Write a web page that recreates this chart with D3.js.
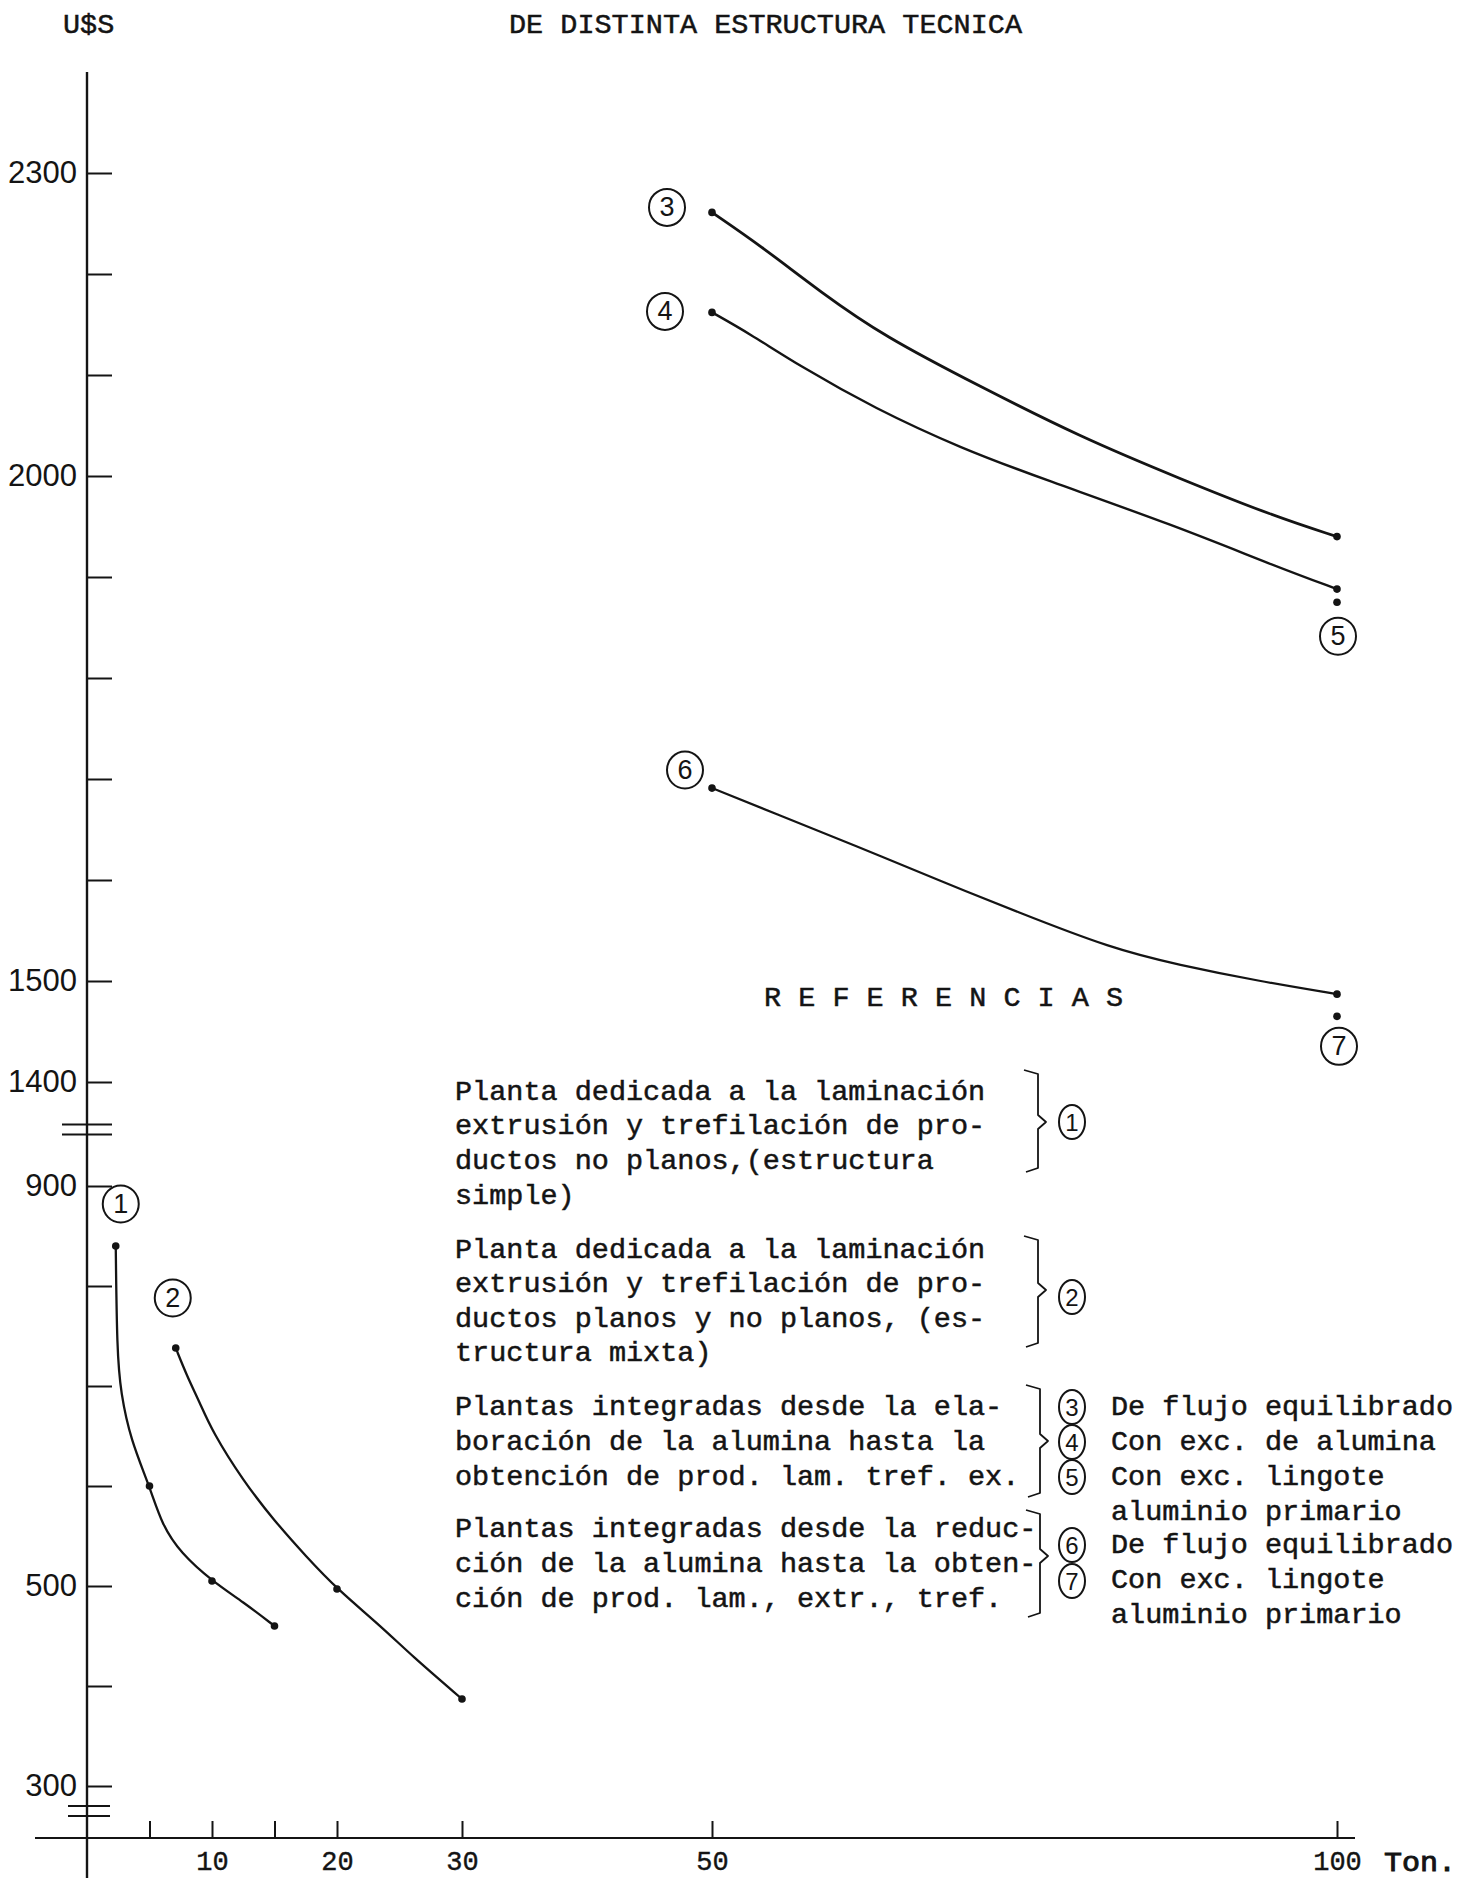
<!DOCTYPE html>
<html>
<head>
<meta charset="utf-8">
<script src="https://d3js.org/d3.v7.min.js"></script>
<style>
  body { margin: 0; background: #fff; }
  svg { display: block; }
</style>
</head>
<body>
<script>
// chart values
var title = "DE DISTINTA ESTRUCTURA TECNICA";
var unitLabel = "U$S";
var refTitle = "R E F E R E N C I A S";

var xTicks = [5, 10, 15, 20, 30, 50, 100];
var xTickLabels = [10, 20, 30, 50, 100];
var xUnit = "Ton.";

var yTopTicks = [1400, 1500, 1600, 1700, 1800, 1900, 2000, 2100, 2200, 2300];
var yTopLabels = [1400, 1500, 2000, 2300];
var yBotTicks = [300, 400, 500, 600, 700, 800, 900];
var yBotLabels = [300, 500, 900];

// (1) estructura simple
var s1x = [2.3, 2.4, 2.7, 3.5, 5, 6, 7.5, 10, 12.5, 15];
var s1y = [840, 735, 693, 646, 600, 561, 533, 505, 484, 460];
var s1Marks = [2.3, 5, 10, 15];
// (2) estructura mixta
var s2x = [7.1, 8, 9, 10, 12.5, 15, 17.5, 20, 23.5, 26, 30];
var s2y = [738, 710, 684, 655, 605, 565, 530, 497, 460, 430, 387];
var s2Marks = [7.1, 20, 30];
// (3) flujo equilibrado
var s3x = [50, 54, 58.7, 63.8, 71.4, 79.4, 87.5, 95, 100];
var s3y = [2261, 2227, 2182, 2138, 2089, 2039, 1997, 1960, 1940];
var s3Marks = [50, 100];
// (4) exc. de alumina
var s4x = [50, 53, 57, 63, 70, 76.5, 87, 95, 100];
var s4y = [2162, 2141, 2109, 2067, 2027, 1997, 1951, 1911, 1888];
var s4Marks = [50, 100];
// (5) exc. lingote aluminio primario
var s5x = [100];
var s5y = [1875];
// (6) flujo equilibrado (reduccion)
var s6x = [50, 55, 61.5, 68.3, 74.3, 82, 87.3, 93.7, 100];
var s6y = [1691, 1666, 1634, 1599, 1569, 1532, 1516, 1500, 1487];
var s6Marks = [50, 100];
// (7) exc. lingote aluminio primario
var s7x = [100];
var s7y = [1465];

var block1 = ["Planta dedicada a la laminación", "extrusión y trefilación de pro-", "ductos no planos,(estructura", "simple)"];
var block2 = ["Planta dedicada a la laminación", "extrusión y trefilación de pro-", "ductos planos y no planos, (es-", "tructura mixta)"];
var block3 = ["Plantas integradas desde la ela-", "boración de la alumina hasta la", "obtención de prod. lam. tref. ex."];
var block4 = ["Plantas integradas desde la reduc-", "ción de la alumina hasta la obten-", "ción de prod. lam., extr., tref."];
var rightCol = ["De flujo equilibrado", "Con exc. de alumina", "Con exc. lingote", "aluminio primario", "De flujo equilibrado", "Con exc. lingote", "aluminio primario"];

var W = 1468, H = 1878;
var ink = "#141414";
var typeFont = "'Liberation Mono', 'DejaVu Sans Mono', monospace";
var numFont = "'Liberation Sans', Arial, sans-serif";
var pitch = 17.1;

var svg = d3.select("body").append("svg")
  .attr("width", W)
  .attr("height", H)
  .style("background", "#fff");

// scales: the value axis is broken in two parts
var x = d3.scaleLinear().domain([0, 100]).range([87, 1337]);
var yTop = d3.scaleLinear().domain([1400, 2300]).range([1082, 173]);
var yBot = d3.scaleLinear().domain([300, 900]).range([1786, 1186]);
var axisY = 1838;

function typeText(g, str, px, py, size) {
  return g.append("text")
    .attr("x", px)
    .attr("y", py)
    .attr("font-family", typeFont)
    .attr("font-size", size || 28)
    .attr("textLength", str.length * pitch)
    .attr("lengthAdjust", "spacingAndGlyphs")
    .attr("fill", ink)
    .attr("stroke", ink)
    .attr("stroke-width", 0.5)
    .text(str);
}

// titles
typeText(svg, unitLabel, 63, 33, 28);
typeText(svg, title, 509, 33, 28);

// vertical axis line
svg.append("line")
  .attr("x1", x(0)).attr("x2", x(0))
  .attr("y1", yTop(2400)).attr("y2", H)
  .attr("stroke", ink).attr("stroke-width", 2.4);

function styleAxis(g) {
  g.select(".domain").remove();
  g.selectAll(".tick line").attr("stroke", ink).attr("stroke-width", 2);
  g.selectAll(".tick text")
    .attr("fill", ink)
    .attr("font-family", numFont)
    .attr("font-size", 31);
}

svg.append("g")
  .attr("transform", "translate(" + x(0) + ",0)")
  .call(d3.axisLeft(yTop).tickValues(yTopTicks).tickSizeInner(-25).tickSizeOuter(0).tickPadding(10)
    .tickFormat(function (d) { return yTopLabels.indexOf(d) >= 0 ? d : ""; }))
  .call(styleAxis);

svg.append("g")
  .attr("transform", "translate(" + x(0) + ",0)")
  .call(d3.axisLeft(yBot).tickValues(yBotTicks).tickSizeInner(-25).tickSizeOuter(0).tickPadding(10)
    .tickFormat(function (d) { return yBotLabels.indexOf(d) >= 0 ? d : ""; }))
  .call(styleAxis);

// break marks
[yTop(1358), yTop(1348)].forEach(function (yy) {
  svg.append("line").attr("x1", 62).attr("x2", 112).attr("y1", yy).attr("y2", yy)
    .attr("stroke", ink).attr("stroke-width", 2);
});
[yBot(280), yBot(270)].forEach(function (yy) {
  svg.append("line").attr("x1", 68).attr("x2", 110).attr("y1", yy).attr("y2", yy)
    .attr("stroke", ink).attr("stroke-width", 2);
});

// x axis
var xg = svg.append("g")
  .attr("transform", "translate(0," + axisY + ")")
  .call(d3.axisBottom(x).tickValues(xTicks).tickSizeInner(-17).tickSizeOuter(0).tickPadding(13)
    .tickFormat(function (d) { return xTickLabels.indexOf(d) >= 0 ? d : ""; }));
xg.select(".domain").remove();
xg.selectAll(".tick line").attr("stroke", ink).attr("stroke-width", 2);
xg.selectAll(".tick text")
  .attr("fill", ink)
  .attr("stroke", ink)
  .attr("stroke-width", 0.4)
  .attr("font-family", typeFont)
  .attr("font-size", 27);
svg.append("line")
  .attr("x1", 35).attr("x2", x(100) + 18)
  .attr("y1", axisY).attr("y2", axisY)
  .attr("stroke", ink).attr("stroke-width", 2.2);
svg.append("text")
  .attr("x", x(100) + 47)
  .attr("y", axisY + 33)
  .attr("font-family", typeFont)
  .attr("font-size", 27)
  .attr("textLength", 72)
  .attr("lengthAdjust", "spacingAndGlyphs")
  .attr("fill", ink)
  .attr("stroke", ink)
  .attr("stroke-width", 0.9)
  .text(xUnit);

// curves
var series = [
  { xs: s1x, ys: s1y, sc: yBot, marks: s1Marks, w: 2.3 },
  { xs: s2x, ys: s2y, sc: yBot, marks: s2Marks, w: 2.3 },
  { xs: s3x, ys: s3y, sc: yTop, marks: s3Marks, w: 2.8 },
  { xs: s4x, ys: s4y, sc: yTop, marks: s4Marks, w: 2.4 },
  { xs: s5x, ys: s5y, sc: yTop, marks: s5x, w: 0 },
  { xs: s6x, ys: s6y, sc: yTop, marks: s6Marks, w: 2.2 },
  { xs: s7x, ys: s7y, sc: yTop, marks: s7x, w: 0 }
];

series.forEach(function (s) {
  var pts = s.xs.map(function (v, i) { return [v, s.ys[i]]; });
  if (pts.length > 1) {
    var line = d3.line()
      .x(function (d) { return x(d[0]); })
      .y(function (d) { return s.sc(d[1]); })
      .curve(d3.curveBasis);
    svg.append("path")
      .datum(pts)
      .attr("d", line)
      .attr("fill", "none")
      .attr("stroke", ink)
      .attr("stroke-width", s.w)
      .attr("stroke-linecap", "round");
  }
  svg.selectAll(null)
    .data(pts.filter(function (d) { return s.marks.indexOf(d[0]) >= 0; }))
    .enter()
    .append("circle")
    .attr("cx", function (d) { return x(d[0]); })
    .attr("cy", function (d) { return s.sc(d[1]); })
    .attr("r", 3.8)
    .attr("fill", ink);
});

// circled numbers next to the curves
var tags = [
  { t: "1", px: x(s1x[0]) + 5, py: yBot(s1y[0]) - 42 },
  { t: "2", px: x(s2x[0]) - 3, py: yBot(s2y[0]) - 50 },
  { t: "3", px: x(s3x[0]) - 45, py: yTop(s3y[0]) - 5 },
  { t: "4", px: x(s4x[0]) - 47, py: yTop(s4y[0]) - 1 },
  { t: "5", px: x(s5x[0]) + 1, py: yTop(s5y[0]) + 34 },
  { t: "6", px: x(s6x[0]) - 27, py: yTop(s6y[0]) - 18 },
  { t: "7", px: x(s7x[0]) + 2, py: yTop(s7y[0]) + 30 }
];

function circled(g, t, px, py, rx, ry, size) {
  g.append("ellipse")
    .attr("cx", px).attr("cy", py)
    .attr("rx", rx).attr("ry", ry)
    .attr("fill", "none")
    .attr("stroke", ink)
    .attr("stroke-width", 2);
  g.append("text")
    .attr("x", px).attr("y", py)
    .attr("text-anchor", "middle")
    .attr("dominant-baseline", "central")
    .attr("font-family", numFont)
    .attr("font-size", size)
    .attr("fill", ink)
    .text(t);
}

tags.forEach(function (d) {
  circled(svg, d.t, d.px, d.py, 18, 18.5, 27);
});

// references
var leg = svg.append("g");
typeText(leg, refTitle, 764, 1006, 28);

var textX = 455;
block1.forEach(function (s, i) { typeText(leg, s, textX, [1100, 1134, 1169, 1204][i]); });
block2.forEach(function (s, i) { typeText(leg, s, textX, [1258, 1292, 1327, 1361][i]); });
block3.forEach(function (s, i) { typeText(leg, s, textX, [1415, 1450, 1485][i]); });
block4.forEach(function (s, i) { typeText(leg, s, textX, [1537, 1572, 1607][i]); });
rightCol.forEach(function (s, i) {
  typeText(leg, s, 1111, [1415, 1450, 1485, 1520, 1553, 1588, 1623][i]);
});

function bracket(bx, top, tip, bot) {
  var p = "M" + (bx - 14) + "," + top +
    " L" + bx + "," + (top + 4) +
    " L" + bx + "," + (tip - 7) +
    " L" + (bx + 8) + "," + tip +
    " L" + bx + "," + (tip + 7) +
    " L" + bx + "," + (bot - 4) +
    " L" + (bx - 12) + "," + bot;
  leg.append("path")
    .attr("d", p)
    .attr("fill", "none")
    .attr("stroke", ink)
    .attr("stroke-width", 1.8)
    .attr("stroke-linejoin", "round");
}

bracket(1038, 1070, 1122, 1172);
bracket(1038, 1236, 1290, 1347);
bracket(1040, 1385, 1441, 1497);
bracket(1040, 1510, 1556, 1617);

var legTags = [
  { t: "1", py: 1122 }, { t: "2", py: 1297 },
  { t: "3", py: 1407 }, { t: "4", py: 1442 }, { t: "5", py: 1477 },
  { t: "6", py: 1545 }, { t: "7", py: 1581 }
];
legTags.forEach(function (d) {
  circled(leg, d.t, 1072, d.py, 13, 17, 24);
});
</script>
</body>
</html>
